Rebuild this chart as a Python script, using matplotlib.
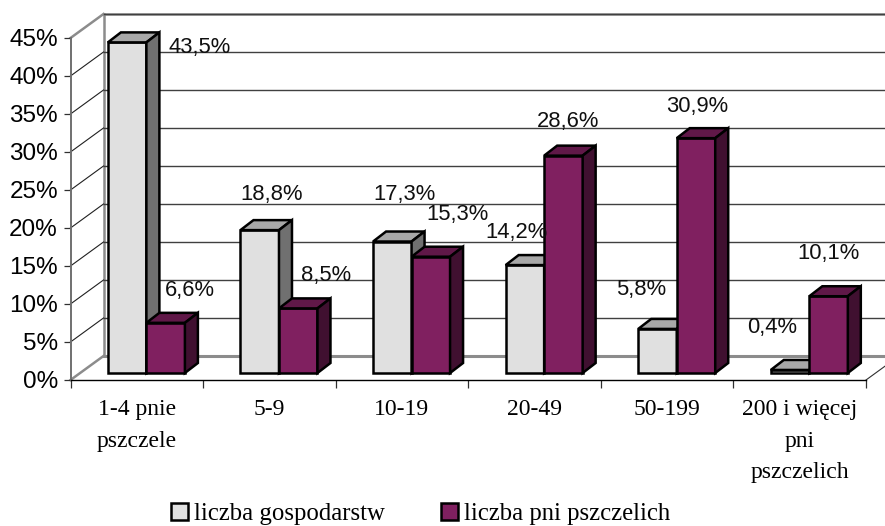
import matplotlib
matplotlib.use('Agg')
import matplotlib.pyplot as plt
from matplotlib.patches import Polygon, Patch

categories = ['1-4 pnie\npszczele', '5-9', '10-19', '20-49', '50-199', '200 i więcej\npni\npszczelich']
gospodarstwa = [43.5, 18.8, 17.3, 14.2, 5.8, 0.4]
pnie = [6.6, 8.5, 15.3, 28.6, 30.9, 10.1]
series_names = ['liczba gospodarstw', 'liczba pni pszczelich']
y_ticks = [0, 5, 10, 15, 20, 25, 30, 35, 40, 45]

# label offsets from the top of each bar, in pixels
gosp_dx = [72.5, 12, 12, -8, -16, -17.5]
gosp_dy = [-4.6, 36, 47.5, 33, 39, 42]
pnie_dx = [24, 27.4, 26.8, 4.2, 1.6, 0]
pnie_dy = [32.8, 33.4, 42.7, 34.6, 32, 43]

W, H = 885, 526
left, right, bottom, top = 70.5, 866, 380, 38
sx = 6 / (right - left)  # data per pixel
sy = 45 / (bottom - top)

fig = plt.figure(figsize=(W / 100, H / 100), dpi=100)
ax = fig.add_axes([left / W, 1 - bottom / H, (right - left) / W, (bottom - top) / H])
ax.set_xlim(0, 6)
ax.set_ylim(0, 45)
ax.patch.set_visible(False)

wall_dx = 33 * sx
wall_dy = 24 * sy
wall_gray = '#8c8c8c'

# back wall and floor
ax.plot([wall_dx, wall_dx], [wall_dy, 45 + wall_dy], color=wall_gray, lw=1.8, clip_on=False, zorder=1)
ax.plot([wall_dx, 6 + wall_dx], [45 + wall_dy, 45 + wall_dy], color=wall_gray, lw=1.8, clip_on=False, zorder=1)
ax.plot([wall_dx, 6 + wall_dx], [wall_dy, wall_dy], color=wall_gray, lw=2.2, clip_on=False, zorder=1)
ax.plot([0, wall_dx], [0, wall_dy], color=wall_gray, lw=1.8, clip_on=False, zorder=1)
ax.plot([0, wall_dx], [45, 45 + wall_dy], color=wall_gray, lw=1.8, clip_on=False, zorder=1)
ax.plot([6, 6 + wall_dx], [0, wall_dy], color='#303030', lw=0.8, clip_on=False, zorder=1)

# gridlines on the wall
for v in y_ticks[1:-1]:
    ax.plot([0, wall_dx], [v, v + wall_dy], color='#202020', lw=0.8, clip_on=False, zorder=1)
for v in y_ticks[1:]:
    ax.plot([wall_dx, 6 + wall_dx], [v + wall_dy, v + wall_dy], color='#404040', lw=1.0, clip_on=False, zorder=1)

# bars
floor_dx = 9.6 * sx
floor_dy = 7 * sy
bar_w = 38.5 * sx
depth_x = 13 * sx
depth_y = 10 * sy


def bar3d(x0, v, front, top_c, side_c):
    y0 = floor_dy
    y1 = floor_dy + v
    x1 = x0 + bar_w
    faces = [
        ([(x0, y0), (x1, y0), (x1, y1), (x0, y1)], front),
        ([(x0, y1), (x1, y1), (x1 + depth_x, y1 + depth_y), (x0 + depth_x, y1 + depth_y)], top_c),
        ([(x1, y0), (x1 + depth_x, y0 + depth_y), (x1 + depth_x, y1 + depth_y), (x1, y1)], side_c),
    ]
    for pts, c in faces:
        ax.add_patch(Polygon(pts, closed=True, facecolor=c, edgecolor='black', lw=1.8,
                             joinstyle='miter', clip_on=False, zorder=3))


for i in range(len(categories)):
    xa = i + 0.5 + floor_dx - bar_w
    xb = i + 0.5 + floor_dx
    bar3d(xa, gospodarstwa[i], '#e0e0e0', '#a8a8a8', '#707070')
    bar3d(xb, pnie[i], '#802060', '#601848', '#401030')

# value labels
for i in range(len(categories)):
    xa = i + 0.5 + floor_dx - bar_w / 2
    xb = i + 0.5 + floor_dx + bar_w / 2
    for x, v, dx, dy in [(xa, gospodarstwa[i], gosp_dx[i], gosp_dy[i]),
                         (xb, pnie[i], pnie_dx[i], pnie_dy[i])]:
        ax.annotate(f'{v:.1f}%'.replace('.', ','), (x, v + floor_dy), xytext=(dx, dy),
                    textcoords='offset pixels', ha='center', va='center',
                    family='Liberation Sans', fontsize=15.8, color='#101010',
                    annotation_clip=False, zorder=5)

# axes
for s in ['top', 'right']:
    ax.spines[s].set_visible(False)
ax.spines['left'].set_color('#707070')
ax.spines['left'].set_linewidth(1.4)
ax.spines['bottom'].set_color('black')
ax.spines['bottom'].set_linewidth(1.0)

ax.set_yticks(y_ticks)
ax.set_yticklabels([f'{v}%' for v in y_ticks], family='Liberation Sans', fontsize=17.5)
ax.tick_params(axis='y', length=5, width=0.9, pad=4, color='#303030')
for lab in ax.get_yticklabels():
    lab.set_verticalalignment('center_baseline')

ax.set_xticks(range(7))
ax.set_xticklabels([])
ax.tick_params(axis='x', which='major', length=6, width=0.9, color='#303030')
ax.set_xticks([i + 0.5 for i in range(6)], minor=True)
ax.set_xticklabels(categories, minor=True, family='Liberation Serif', fontsize=17)
ax.tick_params(axis='x', which='minor', length=0, pad=14)
for lab in ax.get_xticklabels(minor=True):
    lab.set_linespacing(1.65)
    lab.set_verticalalignment('top')

handles = [Patch(facecolor='#e0e0e0', edgecolor='black', lw=1.8),
           Patch(facecolor='#802060', edgecolor='black', lw=1.8)]
leg = fig.legend(handles, series_names, loc='lower left', bbox_to_anchor=(171 / W, 1 / H), ncol=2,
                 frameon=False, handlelength=0.68, handleheight=0.68, handletextpad=0.24,
                 columnspacing=2.3, borderpad=0, borderaxespad=0,
                 prop={'family': 'Liberation Serif', 'size': 17.8})

fig.savefig('out.png', dpi=100)
